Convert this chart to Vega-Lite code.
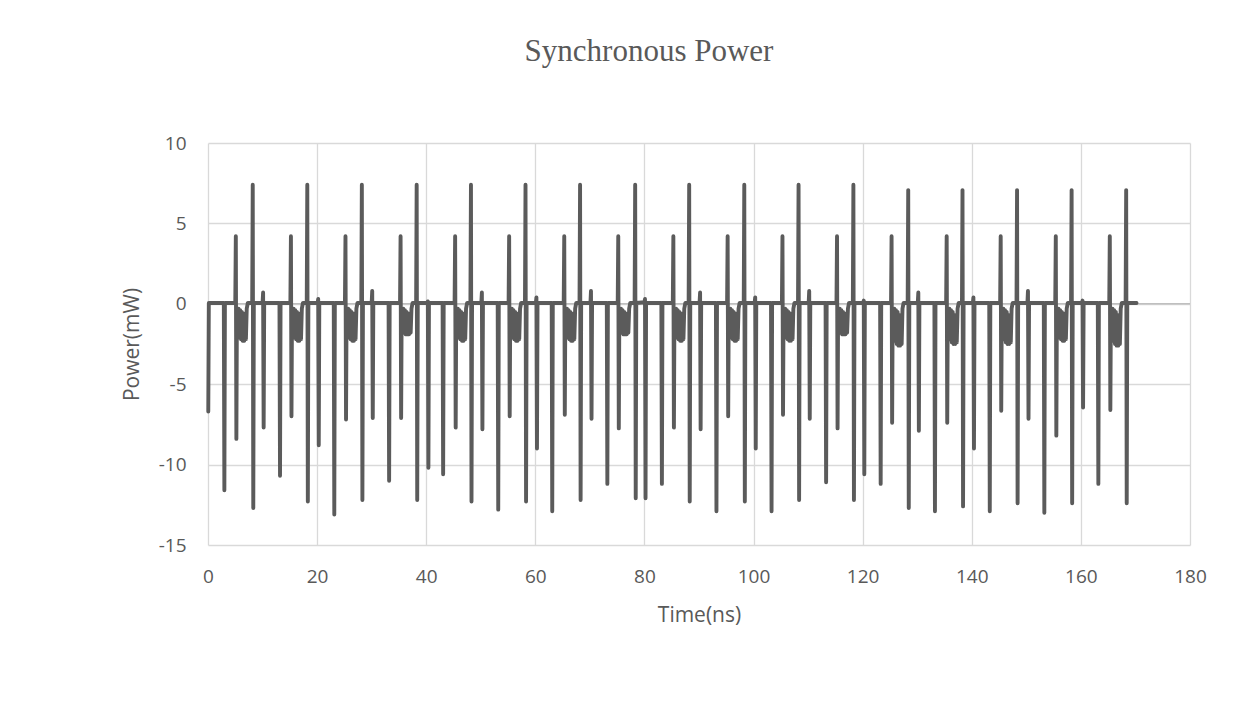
{
"$schema":"https://vega.github.io/schema/vega-lite/v6.json",
"width":982,"height":402,"autosize":"none",
"padding":{"left":208,"top":143,"right":52,"bottom":157},
"background":"white",
"config":{"view":{"stroke":null},"font":"Open Sans"},
"title":{"text":"Synchronous Power","font":"Liberation Serif","fontSize":31,"fontWeight":"normal","color":"#595959","anchor":"middle","frame":"group","dx":-50,"offset":66},
"layer":[
{"data":{"values":[{}]},"mark":{"type":"rule","color":"#bfbfbf","strokeWidth":1.5},"encoding":{"y":{"datum":0,"type":"quantitative"}}},
{"data":{"values":[
{"t":0.05,"p":-6.7},{"t":0.15,"p":0.05},
{"t":2.9,"p":0.05},{"t":3.0,"p":-11.6},{"t":3.1,"p":0.05},
{"t":5.0,"p":0.05},{"t":5.1,"p":4.2},{"t":5.2,"p":-8.4},{"t":5.3,"p":-0.4},
{"t":5.45,"p":-1.9},{"t":5.6,"p":-0.3},{"t":5.75,"p":-2.1},{"t":5.9,"p":-0.4},{"t":6.05,"p":-2.2},{"t":6.2,"p":-0.5},{"t":6.35,"p":-2.3},{"t":6.5,"p":-0.6},{"t":6.65,"p":-2.3},{"t":6.8,"p":-0.8},{"t":6.95,"p":-2.2},{"t":7.1,"p":-0.3},{"t":7.3,"p":0.05},
{"t":8.1,"p":0.05},{"t":8.2,"p":7.4},{"t":8.3,"p":-12.7},{"t":8.4,"p":0.05},
{"t":10.0,"p":0.05},{"t":10.1,"p":0.7},{"t":10.2,"p":-7.7},{"t":10.3,"p":0.05},
{"t":13.1,"p":0.05},{"t":13.2,"p":-10.7},{"t":13.3,"p":0.05},
{"t":15.1,"p":0.05},{"t":15.2,"p":4.2},{"t":15.3,"p":-7.0},{"t":15.4,"p":-0.4},
{"t":15.55,"p":-1.9},{"t":15.7,"p":-0.3},{"t":15.85,"p":-2.1},{"t":16.0,"p":-0.4},{"t":16.15,"p":-2.2},{"t":16.3,"p":-0.5},{"t":16.45,"p":-2.3},{"t":16.6,"p":-0.6},{"t":16.75,"p":-2.3},{"t":16.9,"p":-0.8},{"t":17.05,"p":-2.2},{"t":17.2,"p":-0.3},{"t":17.4,"p":0.05},
{"t":18.1,"p":0.05},{"t":18.2,"p":7.4},{"t":18.3,"p":-12.3},{"t":18.4,"p":0.05},
{"t":20.1,"p":0.05},{"t":20.2,"p":0.3},{"t":20.3,"p":-8.8},{"t":20.4,"p":0.05},
{"t":23.05,"p":0.05},{"t":23.15,"p":-13.1},{"t":23.25,"p":0.05},
{"t":25.1,"p":0.05},{"t":25.2,"p":4.2},{"t":25.3,"p":-7.2},{"t":25.4,"p":-0.4},
{"t":25.55,"p":-1.9},{"t":25.7,"p":-0.3},{"t":25.85,"p":-2.1},{"t":26.0,"p":-0.4},{"t":26.15,"p":-2.2},{"t":26.3,"p":-0.5},{"t":26.45,"p":-2.3},{"t":26.6,"p":-0.6},{"t":26.75,"p":-2.3},{"t":26.9,"p":-0.8},{"t":27.05,"p":-2.2},{"t":27.2,"p":-0.3},{"t":27.4,"p":0.05},
{"t":28.1,"p":0.05},{"t":28.2,"p":7.4},{"t":28.3,"p":-12.2},{"t":28.4,"p":0.05},
{"t":30.0,"p":0.05},{"t":30.1,"p":0.8},{"t":30.2,"p":-7.1},{"t":30.3,"p":0.05},
{"t":33.1,"p":0.05},{"t":33.2,"p":-11.0},{"t":33.3,"p":0.05},
{"t":35.2,"p":0.05},{"t":35.3,"p":4.2},{"t":35.4,"p":-7.1},{"t":35.5,"p":-0.3},
{"t":35.65,"p":-1.6},{"t":35.8,"p":-0.3},{"t":35.95,"p":-1.8},{"t":36.1,"p":-0.4},{"t":36.25,"p":-1.9},{"t":36.4,"p":-0.5},{"t":36.55,"p":-1.9},{"t":36.7,"p":-0.6},{"t":36.85,"p":-1.9},{"t":37.0,"p":-0.8},{"t":37.15,"p":-1.8},{"t":37.3,"p":-0.3},{"t":37.5,"p":0.05},
{"t":38.15,"p":0.05},{"t":38.25,"p":7.4},{"t":38.35,"p":-12.2},{"t":38.45,"p":0.05},
{"t":40.2,"p":0.05},{"t":40.3,"p":0.15},{"t":40.4,"p":-10.2},{"t":40.5,"p":0.05},
{"t":43.0,"p":0.05},{"t":43.1,"p":-10.6},{"t":43.2,"p":0.05},
{"t":45.2,"p":0.05},{"t":45.3,"p":4.2},{"t":45.4,"p":-7.7},{"t":45.5,"p":-0.4},
{"t":45.65,"p":-1.9},{"t":45.8,"p":-0.3},{"t":45.95,"p":-2.1},{"t":46.1,"p":-0.4},{"t":46.25,"p":-2.2},{"t":46.4,"p":-0.5},{"t":46.55,"p":-2.3},{"t":46.7,"p":-0.6},{"t":46.85,"p":-2.3},{"t":47.0,"p":-0.8},{"t":47.15,"p":-2.2},{"t":47.3,"p":-0.3},{"t":47.5,"p":0.05},
{"t":48.1,"p":0.05},{"t":48.2,"p":7.4},{"t":48.3,"p":-12.3},{"t":48.4,"p":0.05},
{"t":50.1,"p":0.05},{"t":50.2,"p":0.7},{"t":50.3,"p":-7.8},{"t":50.4,"p":0.05},
{"t":53.1,"p":0.05},{"t":53.2,"p":-12.8},{"t":53.3,"p":0.05},
{"t":55.1,"p":0.05},{"t":55.2,"p":4.2},{"t":55.3,"p":-7.0},{"t":55.4,"p":-0.4},
{"t":55.55,"p":-1.9},{"t":55.7,"p":-0.3},{"t":55.85,"p":-2.1},{"t":56.0,"p":-0.4},{"t":56.15,"p":-2.2},{"t":56.3,"p":-0.5},{"t":56.45,"p":-2.3},{"t":56.6,"p":-0.6},{"t":56.75,"p":-2.3},{"t":56.9,"p":-0.8},{"t":57.05,"p":-2.2},{"t":57.2,"p":-0.3},{"t":57.4,"p":0.05},
{"t":58.1,"p":0.05},{"t":58.2,"p":7.4},{"t":58.3,"p":-12.3},{"t":58.4,"p":0.05},
{"t":60.1,"p":0.05},{"t":60.2,"p":0.4},{"t":60.3,"p":-9.0},{"t":60.4,"p":0.05},
{"t":63.0,"p":0.05},{"t":63.1,"p":-12.9},{"t":63.2,"p":0.05},
{"t":65.2,"p":0.05},{"t":65.3,"p":4.2},{"t":65.4,"p":-6.9},{"t":65.5,"p":-0.4},
{"t":65.65,"p":-1.9},{"t":65.8,"p":-0.3},{"t":65.95,"p":-2.1},{"t":66.1,"p":-0.4},{"t":66.25,"p":-2.2},{"t":66.4,"p":-0.5},{"t":66.55,"p":-2.3},{"t":66.7,"p":-0.6},{"t":66.85,"p":-2.3},{"t":67.0,"p":-0.8},{"t":67.15,"p":-2.2},{"t":67.3,"p":-0.3},{"t":67.5,"p":0.05},
{"t":68.1,"p":0.05},{"t":68.2,"p":7.4},{"t":68.3,"p":-12.2},{"t":68.4,"p":0.05},
{"t":70.1,"p":0.05},{"t":70.2,"p":0.8},{"t":70.3,"p":-7.15},{"t":70.4,"p":0.05},
{"t":73.1,"p":0.05},{"t":73.2,"p":-11.2},{"t":73.3,"p":0.05},
{"t":75.1,"p":0.05},{"t":75.2,"p":4.2},{"t":75.3,"p":-7.75},{"t":75.4,"p":-0.3},
{"t":75.55,"p":-1.6},{"t":75.7,"p":-0.3},{"t":75.85,"p":-1.8},{"t":76.0,"p":-0.4},{"t":76.15,"p":-1.9},{"t":76.3,"p":-0.5},{"t":76.45,"p":-1.9},{"t":76.6,"p":-0.6},{"t":76.75,"p":-1.9},{"t":76.9,"p":-0.8},{"t":77.05,"p":-1.8},{"t":77.2,"p":-0.3},{"t":77.4,"p":0.05},
{"t":78.2,"p":0.05},{"t":78.3,"p":7.4},{"t":78.4,"p":-12.1},{"t":78.5,"p":0.05},
{"t":80.0,"p":0.1},{"t":80.1,"p":0.3},{"t":80.2,"p":-12.1},{"t":80.3,"p":0.05},
{"t":83.1,"p":0.05},{"t":83.2,"p":-11.2},{"t":83.3,"p":0.05},
{"t":85.2,"p":0.05},{"t":85.3,"p":4.2},{"t":85.4,"p":-7.7},{"t":85.5,"p":-0.4},
{"t":85.65,"p":-1.9},{"t":85.8,"p":-0.3},{"t":85.95,"p":-2.1},{"t":86.1,"p":-0.4},{"t":86.25,"p":-2.2},{"t":86.4,"p":-0.5},{"t":86.55,"p":-2.3},{"t":86.7,"p":-0.6},{"t":86.85,"p":-2.3},{"t":87.0,"p":-0.8},{"t":87.15,"p":-2.2},{"t":87.3,"p":-0.3},{"t":87.5,"p":0.05},
{"t":88.1,"p":0.05},{"t":88.2,"p":7.4},{"t":88.3,"p":-12.3},{"t":88.4,"p":0.05},
{"t":90.1,"p":0.05},{"t":90.2,"p":0.7},{"t":90.3,"p":-7.8},{"t":90.4,"p":0.05},
{"t":93.1,"p":0.05},{"t":93.2,"p":-12.9},{"t":93.3,"p":0.05},
{"t":95.15,"p":0.05},{"t":95.25,"p":4.2},{"t":95.35,"p":-7.0},{"t":95.45,"p":-0.4},
{"t":95.6,"p":-1.9},{"t":95.75,"p":-0.3},{"t":95.9,"p":-2.1},{"t":96.05,"p":-0.4},{"t":96.2,"p":-2.2},{"t":96.35,"p":-0.5},{"t":96.5,"p":-2.3},{"t":96.65,"p":-0.6},{"t":96.8,"p":-2.3},{"t":96.95,"p":-0.8},{"t":97.1,"p":-2.2},{"t":97.25,"p":-0.3},{"t":97.45,"p":0.05},
{"t":98.2,"p":0.05},{"t":98.3,"p":7.4},{"t":98.4,"p":-12.3},{"t":98.5,"p":0.05},
{"t":100.2,"p":0.05},{"t":100.3,"p":0.4},{"t":100.4,"p":-9.0},{"t":100.5,"p":0.05},
{"t":103.2,"p":0.05},{"t":103.3,"p":-12.9},{"t":103.4,"p":0.05},
{"t":105.2,"p":0.05},{"t":105.3,"p":4.2},{"t":105.4,"p":-6.9},{"t":105.5,"p":-0.4},
{"t":105.65,"p":-1.9},{"t":105.8,"p":-0.3},{"t":105.95,"p":-2.1},{"t":106.1,"p":-0.4},{"t":106.25,"p":-2.2},{"t":106.4,"p":-0.5},{"t":106.55,"p":-2.3},{"t":106.7,"p":-0.6},{"t":106.85,"p":-2.3},{"t":107.0,"p":-0.8},{"t":107.15,"p":-2.2},{"t":107.3,"p":-0.3},{"t":107.5,"p":0.05},
{"t":108.15,"p":0.05},{"t":108.25,"p":7.4},{"t":108.35,"p":-12.2},{"t":108.45,"p":0.05},
{"t":110.1,"p":0.05},{"t":110.2,"p":0.8},{"t":110.3,"p":-7.15},{"t":110.4,"p":0.05},
{"t":113.2,"p":0.05},{"t":113.3,"p":-11.1},{"t":113.4,"p":0.05},
{"t":115.2,"p":0.05},{"t":115.3,"p":4.2},{"t":115.4,"p":-7.75},{"t":115.5,"p":-0.3},
{"t":115.65,"p":-1.6},{"t":115.8,"p":-0.3},{"t":115.95,"p":-1.8},{"t":116.1,"p":-0.4},{"t":116.25,"p":-1.9},{"t":116.4,"p":-0.5},{"t":116.55,"p":-1.9},{"t":116.7,"p":-0.6},{"t":116.85,"p":-1.9},{"t":117.0,"p":-0.8},{"t":117.15,"p":-1.8},{"t":117.3,"p":-0.3},{"t":117.5,"p":0.05},
{"t":118.2,"p":0.05},{"t":118.3,"p":7.4},{"t":118.4,"p":-12.2},{"t":118.5,"p":0.05},
{"t":120.1,"p":0.05},{"t":120.2,"p":0.2},{"t":120.3,"p":-10.6},{"t":120.4,"p":0.05},
{"t":123.2,"p":0.05},{"t":123.3,"p":-11.2},{"t":123.4,"p":0.05},
{"t":125.2,"p":0.05},{"t":125.3,"p":4.2},{"t":125.4,"p":-7.4},{"t":125.5,"p":-0.4},
{"t":125.65,"p":-2.0},{"t":125.8,"p":-0.3},{"t":125.95,"p":-2.3},{"t":126.1,"p":-0.4},{"t":126.25,"p":-2.5},{"t":126.4,"p":-0.5},{"t":126.55,"p":-2.6},{"t":126.7,"p":-0.7},{"t":126.85,"p":-2.6},{"t":127.0,"p":-0.9},{"t":127.15,"p":-2.5},{"t":127.3,"p":-0.3},{"t":127.5,"p":0.05},
{"t":128.25,"p":0.05},{"t":128.35,"p":7.07},{"t":128.45,"p":-12.7},{"t":128.55,"p":0.05},
{"t":130.1,"p":0.05},{"t":130.2,"p":0.7},{"t":130.3,"p":-7.9},{"t":130.4,"p":0.05},
{"t":133.15,"p":0.05},{"t":133.25,"p":-12.9},{"t":133.35,"p":0.05},
{"t":135.3,"p":0.05},{"t":135.4,"p":4.2},{"t":135.5,"p":-7.4},{"t":135.6,"p":-0.4},
{"t":135.75,"p":-1.9},{"t":135.9,"p":-0.3},{"t":136.05,"p":-2.2},{"t":136.2,"p":-0.4},{"t":136.35,"p":-2.4},{"t":136.5,"p":-0.5},{"t":136.65,"p":-2.5},{"t":136.8,"p":-0.7},{"t":136.95,"p":-2.5},{"t":137.1,"p":-0.9},{"t":137.25,"p":-2.4},{"t":137.4,"p":-0.3},{"t":137.6,"p":0.05},
{"t":138.2,"p":0.05},{"t":138.3,"p":7.07},{"t":138.4,"p":-12.6},{"t":138.5,"p":0.05},
{"t":140.2,"p":0.05},{"t":140.3,"p":0.4},{"t":140.4,"p":-9.0},{"t":140.5,"p":0.05},
{"t":143.2,"p":0.05},{"t":143.3,"p":-12.9},{"t":143.4,"p":0.05},
{"t":145.2,"p":0.05},{"t":145.3,"p":4.2},{"t":145.4,"p":-6.65},{"t":145.5,"p":-0.4},
{"t":145.65,"p":-1.9},{"t":145.8,"p":-0.3},{"t":145.95,"p":-2.2},{"t":146.1,"p":-0.4},{"t":146.25,"p":-2.4},{"t":146.4,"p":-0.5},{"t":146.55,"p":-2.5},{"t":146.7,"p":-0.7},{"t":146.85,"p":-2.5},{"t":147.0,"p":-0.9},{"t":147.15,"p":-2.4},{"t":147.3,"p":-0.3},{"t":147.5,"p":0.05},
{"t":148.2,"p":0.05},{"t":148.3,"p":7.07},{"t":148.4,"p":-12.4},{"t":148.5,"p":0.05},
{"t":150.2,"p":0.05},{"t":150.3,"p":0.8},{"t":150.4,"p":-7.15},{"t":150.5,"p":0.05},
{"t":153.2,"p":0.05},{"t":153.3,"p":-13.0},{"t":153.4,"p":0.05},
{"t":155.3,"p":0.05},{"t":155.4,"p":4.2},{"t":155.5,"p":-8.2},{"t":155.6,"p":-0.4},
{"t":155.75,"p":-1.9},{"t":155.9,"p":-0.3},{"t":156.05,"p":-2.1},{"t":156.2,"p":-0.4},{"t":156.35,"p":-2.2},{"t":156.5,"p":-0.5},{"t":156.65,"p":-2.3},{"t":156.8,"p":-0.6},{"t":156.95,"p":-2.3},{"t":157.1,"p":-0.8},{"t":157.25,"p":-2.2},{"t":157.4,"p":-0.3},{"t":157.6,"p":0.05},
{"t":158.2,"p":0.05},{"t":158.3,"p":7.07},{"t":158.4,"p":-12.4},{"t":158.5,"p":0.05},
{"t":160.2,"p":0.05},{"t":160.3,"p":0.2},{"t":160.4,"p":-6.45},{"t":160.5,"p":0.05},
{"t":163.1,"p":0.05},{"t":163.2,"p":-11.2},{"t":163.3,"p":0.05},
{"t":165.2,"p":0.05},{"t":165.3,"p":4.2},{"t":165.4,"p":-6.6},{"t":165.5,"p":-0.4},
{"t":165.65,"p":-2.0},{"t":165.8,"p":-0.3},{"t":165.95,"p":-2.3},{"t":166.1,"p":-0.4},{"t":166.25,"p":-2.5},{"t":166.4,"p":-0.5},{"t":166.55,"p":-2.6},{"t":166.7,"p":-0.7},{"t":166.85,"p":-2.6},{"t":167.0,"p":-0.9},{"t":167.15,"p":-2.5},{"t":167.3,"p":-0.3},{"t":167.5,"p":0.05},
{"t":168.2,"p":0.05},{"t":168.3,"p":7.07},{"t":168.4,"p":-12.4},{"t":168.5,"p":0.05},
{"t":170.2,"p":0.05}
]},
"mark":{"type":"line","color":"#5b5b5b","strokeWidth":3.9,"strokeCap":"round","strokeJoin":"round"},
"encoding":{
"x":{"field":"t","type":"quantitative","scale":{"domain":[0,180],"nice":false,"zero":false},
"axis":{"title":"Time(ns)","values":[0,20,40,60,80,100,120,140,160,180],"labelExpr":"'' + datum.value","labelFlush":false,"grid":true,"gridColor":"#d9d9d9","gridWidth":1.3,"domain":false,"ticks":false,"labelFontSize":19,"labelColor":"#595959","labelPadding":22,"titleFontSize":21,"titleFontWeight":"normal","titleColor":"#595959","titlePadding":18}},
"y":{"field":"p","type":"quantitative","scale":{"domain":[-15,10],"nice":false,"zero":false},
"axis":{"title":"Power(mW)","values":[-15,-10,-5,0,5,10],"labelExpr":"'' + datum.value","grid":true,"gridColor":"#d9d9d9","gridWidth":1.3,"domain":false,"ticks":false,"labelFontSize":19,"labelColor":"#595959","labelPadding":22,"titleFontSize":21,"titleFontWeight":"normal","titleColor":"#595959","titlePadding":16}}
}}
]
}
